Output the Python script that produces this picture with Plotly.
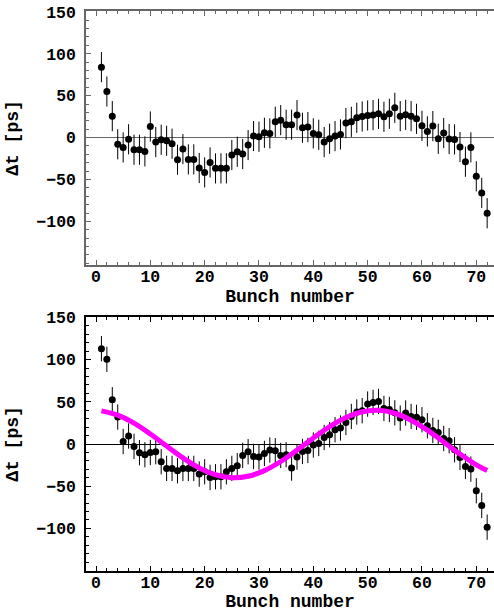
import plotly.graph_objects as go

bunch = list(range(1, 73))

top_dt = [84, 55, 25.6, -8, -11.7, -2, -14.5, -14.5, -16.5, 13.3,
          -5.3, -2.6, -3.8, -7.3, -26.4, -13.7, -26, -26, -36.3, -41.5,
          -29.6, -36.7, -36.7, -36.7, -20.8, -16.9, -19.6, -8.9, 1.8, 1,
          5.7, 5, 18.8, 20.8, 15.3, 15.3, 26.8, 11.7, 12.5, 5,
          3.3, -5.4, -1.4, 1.8, 3.8, 17.3, 18.8, 23.6, 25.2, 26.4,
          26.8, 28.3, 24.8, 28.3, 35.5, 25.6, 27.2, 25.6, 22.4, 14,
          7.4, 13.7, -1.4, 5.4, -1.8, -2.2, -11.3, -28.8, -11.7, -46.2,
          -66, -90.2]
top_err = [18] * 72

bottom_dt = [113, 100.4, 52.5, 32, 3, 9.5, -2.8, -10.3, -12.7, -10,
             -9.1, -21, -28.9, -28.9, -31.7, -28.9, -28.9, -28.9, -35.6, -32.9,
             -39.6, -38.8, -38.8, -32.9, -28.9, -25.7, -13.5, -9.1, -14.7, -15.5,
             -11.1, -7.1, -7.9, -13.5, -12.7, -28.5, -15.5, -8.8, -7.6, -1.2,
             0.7, 7.8, 11, 17, 19, 25.6, 32.7, 38, 39.5, 47.4,
             49.3, 50.5, 42.2, 41, 37, 30.8, 36.8, 32.7, 31.6, 28.8,
             21.7, 16.1, 13.8, 6.6, 3.9, -6.8, -16, -26.6, -29.7, -55.4,
             -72.8, -98.5]
bottom_err = [15] * 72

fit_n = [1, 4, 7, 10, 13, 16, 19, 22, 25, 28, 31, 34, 37, 40, 43, 46, 49, 52,
         55, 58, 61, 64, 67, 70, 72]
fit_dt = [39.3, 34.2, 24.7, 11.9, -2.4, -16.4, -28.3, -36.4, -39.9, -38.2,
          -31.5, -20.7, -7.2, 7.2, 20.7, 31.5, 38.2, 40, 36.5, 28.3, 16.4,
          2.4, -11.9, -24.7, -31.5]

x_ticks = [0, 10, 20, 30, 40, 50, 60, 70]
y_ticks = [-100, -50, 0, 50, 100, 150]
x_title = "Bunch number"
y_title = "Δt [ps]"

FONT = "Liberation Mono"
tickfont = dict(family=FONT, size=16.5, color="black", weight="bold")
titlefont = dict(family=FONT, size=18, color="black", weight="bold")

fig = go.Figure()


def add_points(y, err, xa, ya):
    fig.add_trace(go.Scatter(
        x=bunch, y=y, mode="markers", xaxis=xa, yaxis=ya,
        marker=dict(color="black", size=7),
        error_y=dict(type="data", array=err, visible=True, color="black",
                     thickness=1, width=0),
        showlegend=False, hoverinfo="skip"))


add_points(top_dt, top_err, "x", "y")
add_points(bottom_dt, bottom_err, "x2", "y2")
fig.add_trace(go.Scatter(
    x=fit_n, y=fit_dt, mode="lines", xaxis="x2", yaxis="y2",
    line=dict(color="#ff00ff", width=5, shape="spline"),
    showlegend=False, hoverinfo="skip"))


def xaxis(domain_anchor, color):
    return dict(
        anchor=domain_anchor, domain=[0, 1], range=[-1.84, 73.26],
        tickvals=x_ticks, ticks="inside", ticklen=5, tickcolor=color,
        minor=dict(tick0=0, dtick=2, ticks="inside", ticklen=3, tickcolor=color),
        showline=True, linecolor=color, linewidth=1.5, mirror="ticks",
        showgrid=False, zeroline=False, tickfont=tickfont,
        ticklabelstandoff=-5,
        title=dict(text=x_title, font=titlefont, standoff=3),
    )


def yaxis(domain, anchor, rng, color):
    return dict(
        anchor=anchor, domain=domain, range=rng,
        tickvals=y_ticks, ticks="inside", ticklen=5, tickcolor=color,
        minor=dict(tick0=0, dtick=10, ticks="inside", ticklen=3, tickcolor=color),
        showline=True, linecolor=color, linewidth=1.5,
        showgrid=False, zeroline=True, zerolinecolor=color, zerolinewidth=1,
        tickfont=tickfont, ticklabelstandoff=5,
        title=dict(text=y_title, font=titlefont, standoff=13),
    )


fig.update_layout(
    width=494, height=612,
    margin=dict(l=86, r=0, t=11, b=41),
    paper_bgcolor="white", plot_bgcolor="white",
    xaxis=xaxis("y", "#666666"),
    yaxis=yaxis([0.5464, 1.0], "x", [-152, 151], "#666666"),
    xaxis2=xaxis("y2", "black"),
    yaxis2=yaxis([0.0, 0.4536], "x2", [-150.5, 150.6], "black"),
)

fig.write_html(
    "out.html",
    config={"displayModeBar": False},
    post_script="document.body.style.margin='0';document.body.style.overflow='hidden';",
)
